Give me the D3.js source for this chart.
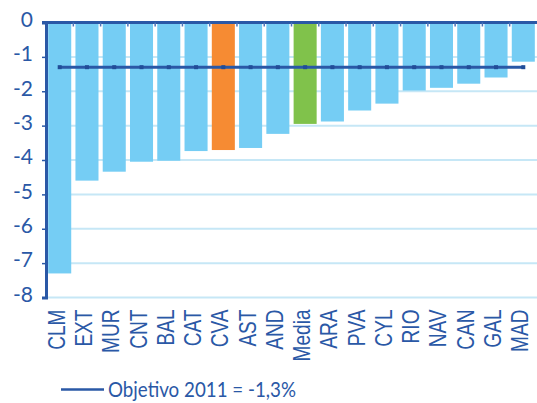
<!DOCTYPE html>
<html><head><meta charset="utf-8">
<script src="https://cdn.jsdelivr.net/npm/d3@7"></script>
<style>body{margin:0;background:#fff}svg{display:block}</style>
</head><body><svg id="c" width="537" height="403"></svg>
<script>
const categories = ["CLM","EXT","MUR","CNT","BAL","CAT","CVA","AST","AND","Media","ARA","PVA","CYL","RIO","NAV","CAN","GAL","MAD"];
const values = [-7.3,-4.6,-4.34,-4.05,-4.02,-3.74,-3.71,-3.65,-3.24,-2.95,-2.88,-2.56,-2.36,-1.98,-1.9,-1.78,-1.6,-1.14];
const objetivo = -1.3;
const yTicks = [0,-1,-2,-3,-4,-5,-6,-7,-8];
const legendLabel = "Objetivo 2011 = -1,3%";

(function(){
const svg = d3.select("#c");
const mL = 46, mR = 537, mT = 22.5, mB = 297.5;
const x = d3.scaleBand().domain(categories).range([mL, mR]).paddingInner(0.155).paddingOuter(0.08);
const y = d3.scaleLinear().domain([-8, 0]).range([mB, mT]);
const blue = "#2a58a6";
const colorFor = c => c === "CVA" ? "#f68b33" : c === "Media" ? "#80c24b" : "#75cdf4";

// gridlines
svg.append("g").selectAll("line").data(yTicks.filter(d => d !== 0)).join("line")
  .attr("x1", mL).attr("x2", mR).attr("y1", d => y(d)).attr("y2", d => y(d))
  .attr("stroke", "#c6e7f6").attr("stroke-width", 2);

// bars
svg.append("g").selectAll("rect").data(categories).join("rect")
  .attr("x", c => x(c)).attr("width", x.bandwidth())
  .attr("y", y(0)).attr("height", (c, i) => y(values[i]) - y(0))
  .attr("fill", colorFor);

// y axis
const yAxis = d3.axisLeft(y).tickValues(yTicks).tickFormat(d => String(d)).tickSize(4).tickPadding(9);
const gy = svg.append("g").attr("transform", `translate(${mL},0)`).call(yAxis);
gy.select(".domain").attr("stroke", blue).attr("stroke-width", 3);
gy.selectAll(".tick line").attr("stroke", blue).attr("stroke-width", 1.5);
gy.selectAll("text").attr("fill", blue).attr("font-family", "Lato, 'Open Sans', sans-serif")
  .attr("font-size", 21).attr("dy", "0.18em");

// zero axis with band-boundary ticks
const step = x.step();
const bounds = categories.slice(1).map(c => x(c) - (step - x.bandwidth()) / 2);
svg.append("line").attr("x1", mL - 4).attr("x2", mR).attr("y1", y(0)).attr("y2", y(0))
  .attr("stroke", blue).attr("stroke-width", 3);
svg.append("g").selectAll("line").data(bounds).join("line")
  .attr("x1", d => d).attr("x2", d => d).attr("y1", y(0)).attr("y2", y(0) + 4)
  .attr("stroke", "#4a74b8").attr("stroke-width", 1.5);

// category labels (condensed along the text direction)
svg.append("g").selectAll("text").data(categories).join("text")
  .attr("transform", c => `translate(${x(c) + x.bandwidth() / 2 + 5},${mB + 12}) rotate(-90) scale(0.83,1)`)
  .attr("text-anchor", "end").attr("fill", blue)
  .attr("font-family", "'Liberation Sans', Arial, sans-serif").attr("font-size", 23)
  .text(c => c);

// objective line
const centers = categories.map(c => x(c) + x.bandwidth() / 2);
const line = d3.line().x(d => d).y(() => y(objetivo));
svg.append("path").attr("d", line([centers[0], centers[centers.length - 1]]))
  .attr("stroke", blue).attr("stroke-width", 3).attr("fill", "none");
svg.append("g").selectAll("rect").data(centers).join("rect")
  .attr("x", d => d - 2).attr("y", y(objetivo) - 2).attr("width", 4).attr("height", 4).attr("fill", "#214d98");

// legend
svg.append("line").attr("x1", 61).attr("x2", 104).attr("y1", 389.5).attr("y2", 389.5)
  .attr("stroke", blue).attr("stroke-width", 2.5);
svg.append("text").attr("x", 108).attr("y", 397).attr("fill", blue)
  .attr("font-family", "Lato, 'Open Sans', sans-serif").attr("font-size", 21)
  .attr("textLength", 188).attr("lengthAdjust", "spacingAndGlyphs").text(legendLabel);
})();
</script></body></html>
